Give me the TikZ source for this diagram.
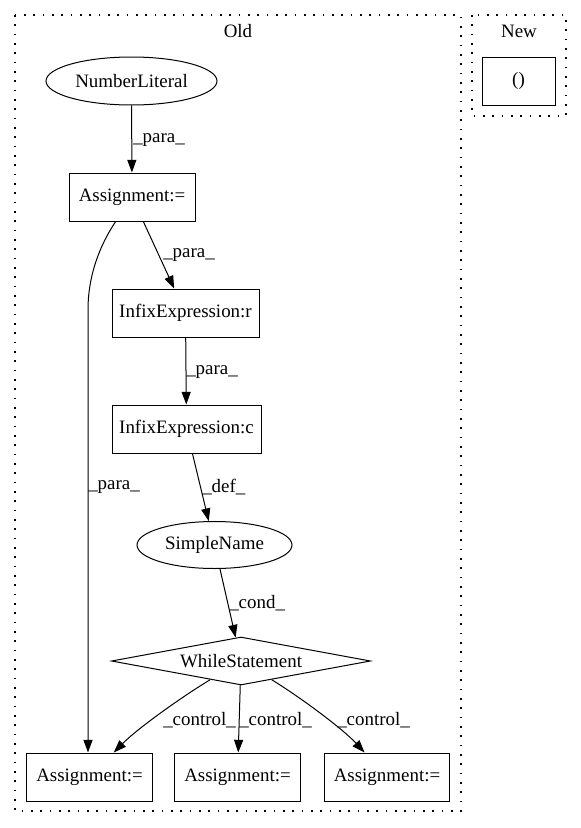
\documentclass[tikz,border=0pt]{standalone}
\usepackage{fontspec}
\setmainfont{Liberation Serif}
\usetikzlibrary{shapes.geometric,arrows.meta}
\begin{document}
\begin{tikzpicture}[x=0.75pt,y=-0.75pt,
  every node/.style={font=\fontsize{14.2}{16}\selectfont},
  rbox/.style={draw, line width=0.75pt, rectangle, minimum height=36pt, inner sep=0pt},
  oval/.style={draw, ellipse, line width=0.75pt, inner sep=0pt},
  dia/.style={draw, diamond, line width=0.75pt, aspect=5.4, minimum width=194.25pt, minimum height=36pt, inner sep=0pt},
  arr/.style={draw, line width=0.75pt, -{Triangle[length=9.5pt,width=6.8pt]}},
  lab/.style={anchor=west, inner sep=0pt},
  cluster/.style={draw, line width=1pt, dash pattern=on 1.2pt off 5.8pt}
]
\useasboundingbox (0,0) rectangle (581,828);
% clusters
\draw[cluster] (15,15) rectangle (461,811);
\draw[cluster] (472,15) rectangle (566,116);
\node (old) at (238,31) {Old};
\node (new) at (519,31) {New};
% nodes
\node[oval, minimum width=128.25pt, minimum height=36pt] (NL) at (131.5,81) {NumberLiteral};
\node[rbox, minimum width=94.5pt] (A1) at (132,197) {Assignment:=};
\node[rbox, minimum width=110.25pt] (IR) at (185.5,313) {InfixExpression:r};
\node[rbox, minimum width=111.75pt] (IC) at (186.5,429) {InfixExpression:c};
\node[oval, minimum width=116.25pt, minimum height=35.25pt] (SN) at (214.5,545) {SimpleName};
\node[dia] (WS) at (241,661) {WhileStatement};
\node[rbox, minimum width=94pt] (B1) at (89.5,777) {Assignment:=};
\node[rbox, minimum width=94pt] (B2) at (237.5,777) {Assignment:=};
\node[rbox, minimum width=94pt] (B3) at (387,777) {Assignment:=};
\node[rbox, minimum width=54.75pt] (N) at (518.5,81) {()};
% edges
\draw[arr] (NL) -- (A1);
\draw[arr] (A1) -- (IR);
\coordinate (k) at (88,310);
\draw[arr] (A1) .. controls (100,245) and (88,275) .. (k) -- (k |- B1.north);
\draw[arr] (IR) -- (IC);
\draw[arr] (IC) -- (SN);
\draw[arr] (SN) -- (WS);
\draw[arr] (WS) .. controls (180,698) and (137,729) .. (B1);
\draw[arr] (WS) -- (B2);
\draw[arr] (WS) .. controls (300,697) and (343,729) .. (B3);
% labels
\node[lab] (l1) at (133,140) {\_para\_};
\node[lab] (l2) at (163,255) {\_para\_};
\node[lab] (l3) at (88,487) {\_para\_};
\node[lab] (l4) at (186,372) {\_para\_};
\node[lab] (l5) at (202,487) {\_def\_};
\node[lab] (l6) at (229,603) {\_cond\_};
\node[lab] (l7) at (163,720) {\_control\_};
\node[lab] (l8) at (239,720) {\_control\_};
\node[lab] (l9) at (337,720) {\_control\_};
\end{tikzpicture}
\end{document}
